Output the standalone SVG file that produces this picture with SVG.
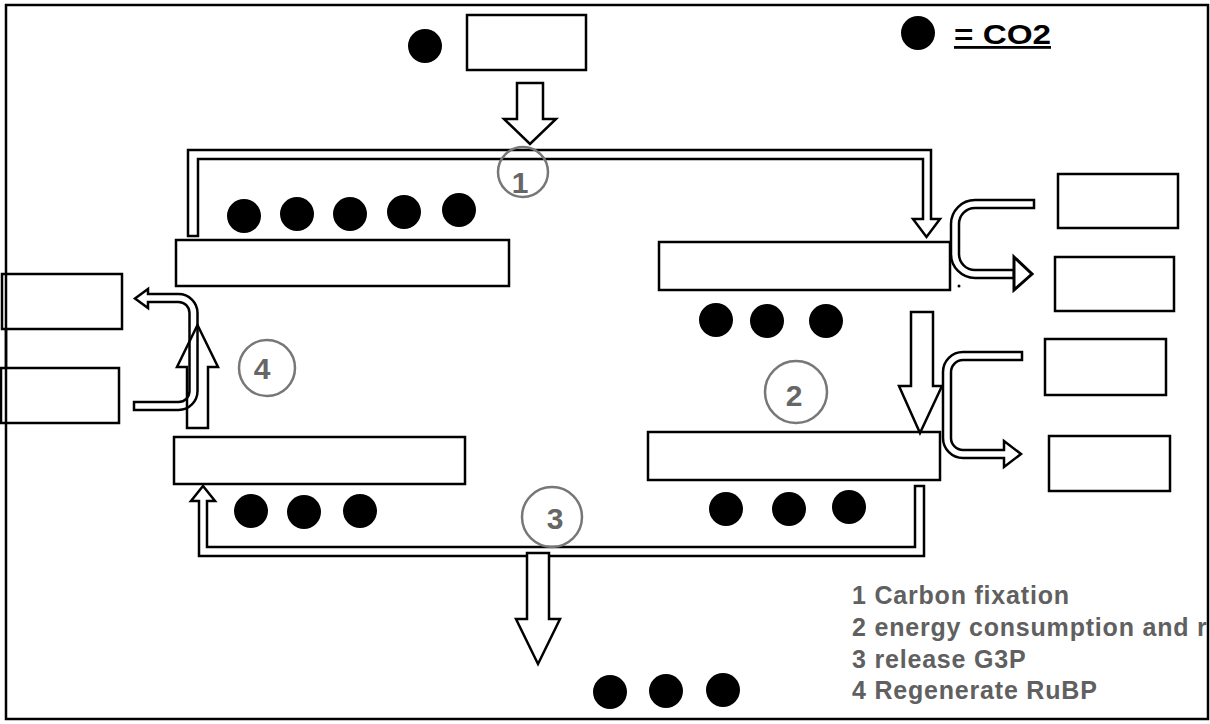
<svg xmlns="http://www.w3.org/2000/svg" width="1210" height="724" viewBox="0 0 1210 724">
<style>
.frame{fill:#fff;stroke:#000;stroke-width:2.5}
.box{fill:#fff;stroke:#000;stroke-width:2.5}
.dot{fill:#000}
.arrow{fill:#fff;stroke:#000;stroke-width:2.5;stroke-linejoin:miter}
.hollow{fill:none;stroke:#000;stroke-width:2.5;stroke-linejoin:miter}
.ring{fill:none;stroke:#777;stroke-width:2.5}
.num{font-family:"Liberation Sans",Arial,sans-serif;font-weight:bold;font-size:30px;fill:#666;text-anchor:middle}
.legend{font-family:"Liberation Sans",Arial,sans-serif;font-weight:bold;font-size:25px;fill:#606060;letter-spacing:0.8px}
.key{font-family:"Liberation Sans",Arial,sans-serif;font-weight:bold;font-size:28px;fill:#000;text-decoration:underline}
</style>
<rect class="frame" x="6" y="5" width="1202" height="714"/>

<g id="input-box"><rect class="box" x="467" y="15" width="119" height="55"/></g>
<g id="input-co2"><circle class="dot" cx="425" cy="46" r="17"/></g>

<g id="legend-key">
<circle class="dot" cx="918" cy="33" r="17"/>
<text class="key" x="954" y="44" textLength="97" lengthAdjust="spacingAndGlyphs">= CO2</text>
</g>

<g id="stage-top-left">
<rect class="box" x="176" y="240" width="333" height="46"/>
<circle class="dot" cx="244" cy="216" r="17"/>
<circle class="dot" cx="297" cy="214" r="17"/>
<circle class="dot" cx="350" cy="214" r="17"/>
<circle class="dot" cx="404" cy="212" r="17"/>
<circle class="dot" cx="459" cy="210" r="17"/>
</g>

<g id="stage-top-right">
<rect class="box" x="659" y="242" width="291" height="48"/>
<circle class="dot" cx="716" cy="320" r="17"/>
<circle class="dot" cx="767" cy="321" r="17"/>
<circle class="dot" cx="826" cy="321" r="17"/>
<circle class="dot" cx="959" cy="286" r="1.5"/>
</g>

<g id="stage-bottom-right">
<rect class="box" x="648" y="432" width="292" height="48"/>
<circle class="dot" cx="726" cy="509" r="17"/>
<circle class="dot" cx="789" cy="509" r="17"/>
<circle class="dot" cx="849" cy="507" r="17"/>
</g>

<g id="stage-bottom-left">
<rect class="box" x="174" y="437" width="291" height="47"/>
<circle class="dot" cx="251" cy="511" r="17"/>
<circle class="dot" cx="304" cy="512" r="17"/>
<circle class="dot" cx="360" cy="511" r="17"/>
</g>

<g id="output-co2">
<circle class="dot" cx="610" cy="692" r="17"/>
<circle class="dot" cx="666" cy="691" r="17"/>
<circle class="dot" cx="723" cy="690" r="17"/>
</g>

<g id="right-box-1"><rect class="box" x="1058" y="174" width="120" height="54"/></g>
<g id="right-box-2"><rect class="box" x="1055" y="257" width="119" height="54"/></g>
<g id="right-box-3"><rect class="box" x="1045" y="339" width="121" height="56"/></g>
<g id="right-box-4"><rect class="box" x="1049" y="436" width="121" height="55"/></g>
<g id="left-box-1"><rect class="box" x="2" y="274" width="120" height="55"/></g>
<g id="left-box-2"><rect class="box" x="1" y="368" width="118" height="55"/></g>
<line x1="6" y1="274" x2="6" y2="423" stroke="#000" stroke-width="2.5"/>

<g id="connectors">
<path class="arrow" d="M517,83 H543 V119 H556 L530,144 L504,119 H517 Z"/>
<path class="arrow" d="M188,236 V150 H931 V219 H940 L926.5,237 L913,219 H923 V159 H198 V236 Z"/>
<path class="arrow" d="M1034,200 H975 A24,24 0 0 0 951,224 V254 A24,24 0 0 0 975,278 H1014 V270 H975 A16,16 0 0 1 959,254 V224 A16,16 0 0 1 975,208 H1034 Z"/>
<polygon class="arrow" points="1014,257 1032,274 1014,290" style="stroke-width:3"/>
<path class="arrow" d="M911,312 H933 V386 H942 L920,433 L899,386 H911 Z"/>
<path class="arrow" d="M1022,352 H963 A20,20 0 0 0 943,372 V438 A20,20 0 0 0 963,458 H1004 V467 L1021,454 L1004,441 V450 H963 A12,12 0 0 1 951,438 V372 A12,12 0 0 1 963,360 H1022 Z"/>
<path class="arrow" d="M924,486 V556 H199 V501 H191 L203,486 L215,501 H207 V547 H915 V486 Z"/>
<path class="arrow" d="M527,553 H549 V619 H560 L538,664 L516,619 H527 Z"/>
<path class="hollow" d="M187,428 V367 H177 L197.5,325 L218,367 H208 V428 Z"/>
<path class="hollow" d="M134,410 H178.5 A19,19 0 0 0 197.5,391 V313 A19,19 0 0 0 178.5,294 H148 V289 L135,298.5 L148,308 V302 H178.5 A11,11 0 0 1 189.5,313 V391 A11,11 0 0 1 178.5,402 H134 Z"/>
</g>

<g id="step-1"><circle class="ring" cx="523" cy="172" r="25"/><text class="num" x="520" y="193">1</text></g>
<g id="step-2"><circle class="ring" cx="796" cy="392" r="31"/><text class="num" x="794" y="406">2</text></g>
<g id="step-3"><circle class="ring" cx="552" cy="517" r="30"/><text class="num" x="555" y="529">3</text></g>
<g id="step-4"><circle class="ring" cx="267" cy="368" r="28"/><text class="num" x="262" y="379">4</text></g>

<g id="legend">
<text class="legend" x="852" y="604">1 Carbon fixation</text>
<text class="legend" x="852" y="636">2 energy consumption and r</text>
<text class="legend" x="852" y="668">3 release G3P</text>
<text class="legend" x="852" y="699">4 Regenerate RuBP</text>
</g>
</svg>
